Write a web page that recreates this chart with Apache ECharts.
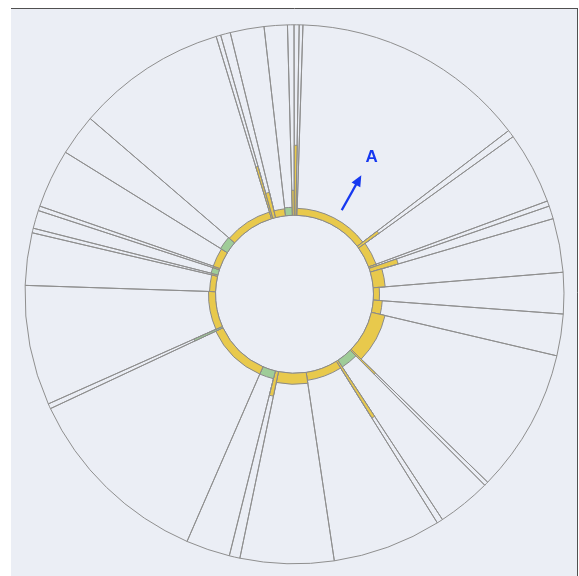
<!DOCTYPE html>
<html>
<head>
<meta charset="utf-8">
<script src="https://cdn.jsdelivr.net/npm/echarts@6/dist/echarts.min.js"></script>
<style>
  html, body { margin: 0; padding: 0; background: #ffffff; }
  #chart { width: 579px; height: 576px; }
</style>
</head>
<body>
<div id="chart"></div>
<script>
// Wedge boundaries in degrees, clockwise from north (N wedges -> N+1 edges)
const edges = [
  1.0, 1.8, 52.6, 54.2, 69.75, 70.9, 73.7, 85.3, 94.2, 103.2,
  134.2, 135.1, 146.7, 148.0, 171.5, 191.7, 194.0, 203.5, 244.9, 246.0,
  271.9, 283.2, 284.2, 288.1, 289.1, 301.8, 310.7, 343.1, 344.1, 346.2,
  353.5, 358.5, 359.9, 361.0
];
// Length of the coloured bar in each wedge (radial units)
const values = [
  6, 7, 25, 8, 8, 29, 12, 6, 9, 14,
  34, 8, 67, 8, 11, 25, 8, 8, 31, 7,
  6, 6, 7, 6, 7, 8, 7, 54, 26, 7,
  8, 25, 70
];
// Group of each wedge: Y = yellow, G = green
const groups = [
  'Y', 'Y', 'Y', 'Y', 'Y', 'Y', 'Y', 'Y', 'Y', 'Y',
  'Y', 'G', 'Y', 'Y', 'Y', 'Y', 'G', 'Y', 'G', 'Y',
  'Y', 'Y', 'G', 'Y', 'Y', 'G', 'Y', 'Y', 'Y', 'Y',
  'G', 'Y', 'Y'
];
// Outer radial limit of every wedge
const radiusMax = 190.5;
// Annotation: direction (deg), arrow tail, arrow tip, label position (radial units), label
const noteAngle = 29.3;
const noteTail = 17.5;
const noteTip = 57.5;
const noteText = 78.5;
const noteLabel = 'A';

const groupColor = { Y: '#E8C94C', G: '#9FCC98' };

const wedgeData = values.map((v, i) => [edges[i], edges[i + 1], v, groups[i]]);

function sectorShape(api, cs, a0, a1, r0v, r1v) {
  const p0 = api.coord([r0v, a0]);
  const p1 = api.coord([r1v, a1]);
  return {
    cx: cs.cx, cy: cs.cy,
    r0: p0[2], r: p1[2],
    startAngle: -p0[3], endAngle: -p1[3],
    clockwise: true
  };
}

function renderWedge(params, api) {
  const cs = params.coordSys;
  const a0 = api.value(0), a1 = api.value(1), v = api.value(2);
  const g = wedgeData[params.dataIndex][3];
  return {
    type: 'group',
    children: [
      {
        type: 'sector',
        shape: sectorShape(api, cs, a0, a1, 0, radiusMax),
        style: { fill: 'rgba(0,0,0,0)', stroke: '#8f8f8f', lineWidth: 1 }
      },
      {
        type: 'sector',
        shape: sectorShape(api, cs, a0, a1, 0, v),
        style: { fill: groupColor[g], stroke: '#8a8a8a', lineWidth: 1 }
      }
    ]
  };
}

function renderNote(params, api) {
  const a = api.value(0);
  const tail = api.coord([api.value(1), a]);
  const tip = api.coord([api.value(2), a]);
  const lab = api.coord([api.value(3), a]);
  const dx = tip[0] - tail[0], dy = tip[1] - tail[1];
  const len = Math.sqrt(dx * dx + dy * dy);
  const ux = dx / len, uy = dy / len;
  const hl = 11, hw = 5;
  const bx = tip[0] - ux * hl, by = tip[1] - uy * hl;
  return {
    type: 'group',
    children: [
      {
        type: 'line',
        shape: { x1: tail[0], y1: tail[1], x2: bx + ux * 2, y2: by + uy * 2 },
        style: { stroke: '#1638F0', lineWidth: 2.2 }
      },
      {
        type: 'polygon',
        shape: { points: [[tip[0], tip[1]], [bx - uy * hw, by + ux * hw], [bx + uy * hw, by - ux * hw]] },
        style: { fill: '#1638F0' }
      },
      {
        type: 'text',
        style: {
          x: lab[0], y: lab[1], text: noteLabel,
          fill: '#1638F0', font: 'bold 17px "Liberation Sans", Arial, sans-serif',
          align: 'center', verticalAlign: 'middle'
        }
      }
    ]
  };
}

const chart = echarts.init(document.getElementById('chart'), null, { renderer: 'canvas' });
chart.setOption({
  animation: false,
  backgroundColor: '#ffffff',
  graphic: [
    { type: 'rect', z: -10, shape: { x: 11, y: 9, width: 567, height: 567 }, style: { fill: '#EBEEF5' } },
    { type: 'line', z: -9, shape: { x1: 11, y1: 8.5, x2: 578, y2: 8.5 }, style: { stroke: '#505050', lineWidth: 1 } },
    { type: 'line', z: -9, shape: { x1: 577.5, y1: 8.5, x2: 577.5, y2: 576 }, style: { stroke: '#505050', lineWidth: 1 } }
  ],
  polar: { center: [294.5, 294.3], radius: [79, 269.5] },
  angleAxis: {
    type: 'value', min: 0, max: 360, startAngle: 90, clockwise: true,
    show: false, splitLine: { show: false }, axisLine: { show: false }
  },
  radiusAxis: {
    type: 'value', min: 0, max: radiusMax,
    show: false, splitLine: { show: false }, axisLine: { show: false }
  },
  series: [
    {
      type: 'custom', coordinateSystem: 'polar',
      renderItem: renderWedge,
      data: wedgeData.map(d => [d[0], d[1], d[2]])
    },
    {
      type: 'custom', coordinateSystem: 'polar',
      renderItem: renderNote,
      data: [[noteAngle, noteTail, noteTip, noteText]]
    }
  ]
});
</script>
</body>
</html>
